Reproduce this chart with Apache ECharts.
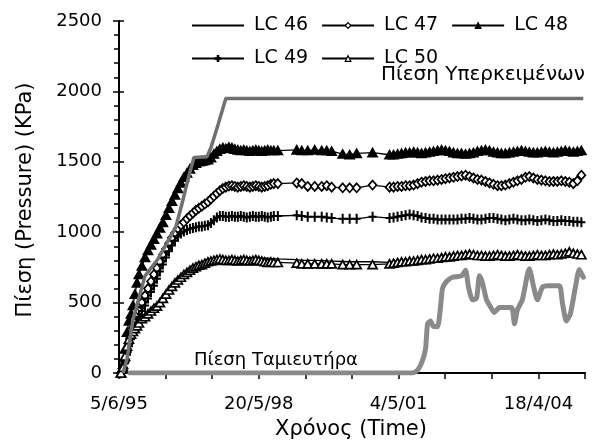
<!DOCTYPE html>
<html>
<head>
<meta charset="utf-8">
<script src="https://cdn.jsdelivr.net/npm/echarts@6/dist/echarts.min.js"></script>
<style>
  html, body { margin: 0; padding: 0; background: #fff; }
  #chart { width: 604px; height: 448px; }
</style>
</head>
<body>
<div id="chart"></div>
<script>
// Load-cell pressures (kPa) against time, counted in days from 5/6/1995.
const FONT = '"DejaVu Sans", "Liberation Sans", Arial, sans-serif';

// Reading dates shared by the five load cells
const sampleDay = [
  15, 31, 46, 62, 77, 93, 108, 123, 139, 154,
  177, 201, 224, 247, 270, 293, 316, 339, 363, 386, 409, 432, 455, 478, 501,
  525, 548, 571, 594, 617, 640, 663, 687, 710, 733, 756, 779, 802, 825, 849,
  872, 895, 918, 941, 964, 987, 1011, 1034, 1057, 1080, 1103, 1126, 1149, 1173, 1196,
  1227, 1373, 1412, 1458, 1512, 1566, 1605, 1643, 1728, 1782, 1836, 1959,
  2090, 2121, 2152, 2183, 2214, 2245, 2276, 2307, 2337, 2368, 2399, 2430, 2461, 2492,
  2522, 2553, 2584, 2615, 2646, 2677, 2708, 2738, 2769, 2800, 2831, 2862, 2893, 2924,
  2954, 2985, 3016, 3047, 3078, 3109, 3140, 3170, 3201, 3232, 3263, 3294, 3325, 3356,
  3386, 3417, 3448, 3479, 3510, 3541, 3572
];

const lc46 = [
  0, 30, 100, 170, 225, 265, 290, 310, 330, 350,
  380, 400, 420, 440, 465, 485, 510, 540, 570, 600, 625, 650, 670, 690, 705,
  720, 735, 750, 760, 770, 780, 790, 795, 800, 805, 810, 815, 815, 815, 815,
  820, 820, 820, 820, 820, 820, 820, 820, 818, 818, 815, 815, 815, 812, 812,
  810, 805, 800, 800, 800, 798, 796, 795, 792, 790, 790, 790,
  785, 790, 792, 795, 798, 800, 802, 805, 808, 810, 812, 815, 818, 820,
  822, 825, 828, 830, 832, 835, 835, 835, 832, 830, 830, 830, 832, 835,
  835, 832, 830, 832, 835, 835, 832, 830, 832, 835, 835, 835, 838, 840,
  840, 842, 845, 850, 848, 845, 842
];

const lc47 = [
  0, 20, 80, 150, 210, 270, 320, 360, 400, 440,
  500, 550, 600, 650, 700, 745, 790, 840, 880, 920, 960, 995, 1025, 1050, 1070,
  1095, 1115, 1135, 1155, 1170, 1185, 1200, 1215, 1235, 1255, 1275, 1295, 1310, 1320, 1328,
  1330, 1325, 1320, 1325, 1330, 1325, 1320, 1325, 1330, 1325, 1320, 1325, 1330, 1340, 1345,
  1345, 1350, 1345, 1325, 1325, 1325, 1330, 1320, 1315, 1315, 1315, 1335,
  1320, 1320, 1325, 1325, 1330, 1330, 1335, 1345, 1355, 1360, 1365, 1365, 1370, 1375,
  1380, 1385, 1390, 1395, 1400, 1405, 1395, 1385, 1375, 1370, 1360, 1350, 1340, 1330,
  1330, 1335, 1345, 1355, 1365, 1375, 1390, 1395, 1385, 1375, 1370, 1365, 1360, 1360,
  1360, 1365, 1360, 1355, 1345, 1365, 1405
];

const lc48 = [
  0, 60, 170, 290, 370, 420, 480, 560, 640, 700,
  760, 820, 870, 910, 950, 990, 1030, 1070, 1120, 1170, 1220, 1265, 1310, 1350, 1390,
  1420, 1450, 1475, 1490, 1500, 1505, 1510, 1515, 1530, 1555, 1575, 1590, 1600, 1595, 1605,
  1600, 1590, 1585, 1580, 1585, 1580, 1575, 1580, 1585, 1580, 1575, 1580, 1585, 1580, 1580,
  1580, 1585, 1580, 1580, 1585, 1580, 1580, 1575, 1555, 1550, 1560, 1565,
  1550, 1550, 1555, 1560, 1565, 1565, 1570, 1565, 1560, 1565, 1570, 1575, 1580, 1585,
  1580, 1575, 1565, 1560, 1560, 1555, 1560, 1565, 1575, 1580, 1585, 1580, 1570, 1565,
  1560, 1560, 1565, 1570, 1575, 1580, 1575, 1570, 1565, 1565, 1570, 1575, 1570, 1565,
  1570, 1575, 1580, 1575, 1570, 1575, 1580
];

const lc49 = [
  0, 20, 70, 130, 190, 240, 280, 320, 360, 400,
  440, 480, 530, 575, 620, 670, 720, 770, 820, 865, 905, 940, 970, 990, 1005,
  1015, 1025, 1030, 1035, 1040, 1040, 1045, 1050, 1065, 1085, 1105, 1115, 1115, 1110, 1110,
  1115, 1110, 1110, 1115, 1110, 1105, 1110, 1115, 1110, 1110, 1115, 1110, 1105, 1110, 1115,
  1115, 1120, 1115, 1110, 1110, 1110, 1105, 1100, 1095, 1095, 1095, 1110,
  1100, 1105, 1110, 1115, 1120, 1125, 1120, 1115, 1105, 1100, 1095, 1095, 1090, 1090,
  1090, 1090, 1090, 1090, 1095, 1095, 1100, 1095, 1090, 1090, 1095, 1100, 1100, 1095,
  1090, 1085, 1090, 1095, 1090, 1085, 1085, 1090, 1085, 1080, 1085, 1090, 1085, 1080,
  1080, 1085, 1080, 1080, 1075, 1075, 1070
];

const lc50 = [
  0, 40, 120, 190, 240, 275, 295, 315, 335, 355,
  385, 400, 420, 440, 460, 475, 500, 530, 560, 590, 615, 640, 660, 680, 700,
  715, 730, 745, 755, 765, 770, 780, 790, 795, 800, 805, 810, 805, 800, 800,
  805, 800, 795, 800, 805, 800, 795, 800, 805, 800, 795, 790, 785, 790, 785,
  785, 780, 775, 775, 775, 775, 775, 775, 770, 770, 770, 770,
  775, 780, 785, 790, 790, 795, 795, 800, 805, 805, 810, 815, 815, 820,
  825, 825, 830, 835, 835, 840, 845, 840, 835, 835, 830, 830, 835, 840,
  835, 830, 830, 835, 840, 835, 830, 830, 835, 840, 835, 835, 840, 845,
  840, 845, 850, 860, 850, 845, 840
];

// Overburden pressure (Πίεση Υπερκειμένων)
const overburdenDay = [31, 62, 108, 201, 301, 393, 440, 486, 540, 579, 594, 679, 710, 764, 825, 3587];
const overburdenKPa = [0, 100, 380, 690, 810, 960, 1040, 1200, 1400, 1530, 1535, 1535, 1600, 1760, 1950, 1950];

// Reservoir pressure (Πίεση Ταμιευτήρα)
const reservoirDay = [
  85, 2268, 2306, 2337, 2368, 2384, 2407, 2430, 2461, 2484, 2499, 2530, 2576, 2646,
  2677, 2700, 2731, 2762, 2785, 2808, 2839, 2870, 2900, 2939, 3032, 3055, 3078, 3116,
  3155, 3170, 3201, 3232, 3271, 3309, 3402, 3425, 3456, 3487, 3526, 3556, 3587
];
const reservoirKPa = [
  0, 0, 20, 70, 170, 350, 370, 330, 330, 470, 600, 650, 680, 690,
  730, 610, 520, 530, 690, 640, 520, 470, 430, 465, 465, 350, 450, 520,
  700, 740, 620, 520, 610, 620, 620, 500, 370, 420, 610, 735, 680
];

// Axis ticks
const yTicks = [0, 500, 1000, 1500, 2000, 2500];
const xMajorDays = [0, 1080, 2160, 3240];
const xMaxDay = 3600;

const BASE = Date.UTC(1995, 5, 5);
function dayLabel(d) {
  const t = new Date(BASE + d * 86400000);
  return t.getUTCDate() + '/' + (t.getUTCMonth() + 1) + '/' + String(t.getUTCFullYear()).slice(2);
}
const zip = (xs, ys) => xs.map((x, i) => [x, ys[i]]);

const plusPath = 'path://M3,0H5V10H3Z M0,4H8V6H0Z';

const lcSeries = [
  { name: 'LC 46', data: lc46, symbol: 'none' },
  { name: 'LC 47', data: lc47, symbol: 'diamond', symbolSize: [8, 9], fill: '#fff' },
  { name: 'LC 48', data: lc48, symbol: 'triangle', symbolSize: [9, 8], fill: '#000' },
  { name: 'LC 49', data: lc49, symbol: plusPath, symbolSize: [8, 10], fill: '#000', border: 0 },
  { name: 'LC 50', data: lc50, symbol: 'triangle', symbolSize: [9, 8], fill: '#fff' }
].map(s => ({
  type: 'line',
  name: s.name,
  data: zip(sampleDay, s.data),
  symbol: s.symbol,
  symbolSize: s.symbolSize,
  showSymbol: s.symbol !== 'none',
  showAllSymbol: true,
  z: 3,
  lineStyle: { color: '#000', width: 1.3 },
  itemStyle: {
    color: s.fill || '#000',
    borderColor: '#000',
    borderWidth: s.border === 0 ? 0 : 1.7
  },
  emphasis: { disabled: true },
  animation: false
}));

const chart = echarts.init(document.getElementById('chart'), null, { renderer: 'canvas' });

const tickFont = { fontFamily: FONT, fontSize: 18, color: '#000' };
const legendText = { fontFamily: FONT, fontSize: 19, color: '#000', padding: [0, 0, 0, 5] };
const legendCommon = {
  itemWidth: 52, itemHeight: 7, itemGap: 13,
  textStyle: legendText,
  lineStyle: { width: 2 },
  itemStyle: { borderWidth: 1.2 },
  selectedMode: false
};

chart.setOption({
  animation: false,
  backgroundColor: '#fff',
  textStyle: { fontFamily: FONT },
  grid: { left: 119, right: 19, top: 21, bottom: 75, containLabel: false },
  legend: [
    {
      ...legendCommon,
      data: [{ name: 'LC 46', itemStyle: { opacity: 0 } }, 'LC 47', 'LC 48'],
      left: 186, top: 11
    },
    {
      ...legendCommon,
      data: ['LC 49', 'LC 50'],
      left: 186, top: 44
    }
  ],
  xAxis: [
    {
      type: 'value', min: 0, max: xMaxDay, interval: 360,
      axisLine: { show: true, onZero: false, lineStyle: { color: '#000', width: 2 } },
      axisTick: { show: true, length: 6, lineStyle: { color: '#000', width: 1.5 } },
      axisLabel: {
        ...tickFont, margin: 22, interval: 0, customValues: xMajorDays,
        formatter: v => (xMajorDays.indexOf(v) >= 0 ? dayLabel(v) : '')
      },
      splitLine: { show: false }
    },
    {
      type: 'value', min: 0, max: xMaxDay, interval: 1080,
      axisLine: { show: false },
      axisTick: { show: true, inside: true, length: 5, customValues: xMajorDays, lineStyle: { color: '#000', width: 1.5 } },
      axisLabel: { show: false },
      splitLine: { show: false }
    }
  ],
  yAxis: [
    {
      type: 'value', min: 0, max: 2500, interval: 500,
      axisLine: { show: true, onZero: false, lineStyle: { color: '#000', width: 2 } },
      axisTick: { show: true, length: 6, lineStyle: { color: '#000', width: 1.5 } },
      minorTick: { show: true, splitNumber: 5, length: 5, lineStyle: { color: '#000', width: 1.5 } },
      axisLabel: { ...tickFont, margin: 17, customValues: yTicks, formatter: v => String(v) },
      splitLine: { show: false }
    },
    {
      type: 'value', min: 0, max: 2500, interval: 500, position: 'left',
      axisLine: { show: false },
      axisTick: { show: true, inside: true, length: 5, lineStyle: { color: '#000', width: 1.5 } },
      axisLabel: { show: false },
      splitLine: { show: false }
    }
  ],
  graphic: [
    {
      type: 'text', x: 351, y: 430,
      style: { text: 'Χρόνος (Time)', font: '21px ' + FONT, fill: '#000',
               align: 'center', verticalAlign: 'middle', textAlign: 'center', textVerticalAlign: 'middle' }
    },
    {
      type: 'text', x: 26, y: 200, rotation: Math.PI / 2,
      style: { text: 'Πίεση (Pressure) (KPa)', font: '21px ' + FONT, fill: '#000',
               align: 'center', verticalAlign: 'middle', textAlign: 'center', textVerticalAlign: 'middle' }
    },
    {
      type: 'text', x: 585, y: 75,
      style: { text: 'Πίεση Υπερκειμένων', font: '20px ' + FONT, fill: '#000',
               align: 'right', verticalAlign: 'middle', textAlign: 'right', textVerticalAlign: 'middle' }
    },
    {
      type: 'text', x: 194, y: 360,
      style: { text: 'Πίεση Ταμιευτήρα', font: '18px ' + FONT, fill: '#000',
               align: 'left', verticalAlign: 'middle', textAlign: 'left', textVerticalAlign: 'middle' }
    }
  ],
  series: [
    ...lcSeries,
    {
      type: 'line', name: 'Πίεση Υπερκειμένων',
      data: zip(overburdenDay, overburdenKPa),
      symbol: 'none', z: 4,
      lineStyle: { color: '#707070', width: 3.5 },
      emphasis: { disabled: true }, animation: false
    },
    {
      type: 'line', name: 'Πίεση Ταμιευτήρα',
      data: zip(reservoirDay, reservoirKPa),
      symbol: 'none', z: 4, smooth: 0.2,
      lineStyle: { color: '#8a8a8a', width: 5, join: 'round', cap: 'round' },
      emphasis: { disabled: true }, animation: false
    }
  ]
});
</script>
</body>
</html>
